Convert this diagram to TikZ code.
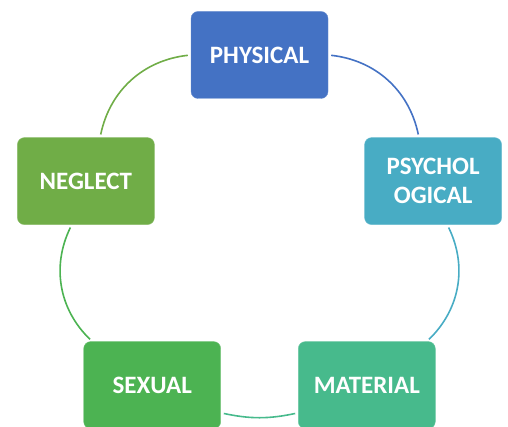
\documentclass[tikz,border=0pt]{standalone}
\usepackage{fontspec}
\setmainfont{Carlito}
\usepackage{xcolor}
\usepackage{tikz}
\usetikzlibrary{positioning, calc}
\definecolor{physblue}{RGB}{68, 114, 196}
\definecolor{psychteal}{RGB}{72, 172, 196}
\definecolor{matgreen}{RGB}{71, 186, 140}
\definecolor{sexgreen}{RGB}{76, 179, 82}
\definecolor{neglgreen}{RGB}{112, 173, 71}

\begin{document}
\begin{tikzpicture}[
        x=1pt, y=-1pt,
        block/.style={rectangle, rounded corners=7pt, minimum width=137pt, minimum height=87pt, align=center, text=white, font=\fontsize{25}{29}\selectfont\bfseries},
        ring/.style={line width=1.6pt, shorten <=3pt, shorten >=3pt}
    ]
        \useasboundingbox (0,0) rectangle (508,427);
        \coordinate (center) at (259.5,237.5);

        \node[block, fill=physblue, draw=physblue!80!white] (physical) at ($(center)+(0,-182.5)$) {PHYSICAL};
        \node[block, fill=psychteal, draw=psychteal!80!white] (psych) at ($(center)+(173.6,-56.4)$) {PSYCHOL\\OGICAL};
        \node[block, fill=matgreen, draw=matgreen!80!white] (material) at ($(center)+(107.3,147.6)$) {MATERIAL};
        \node[block, fill=sexgreen, draw=sexgreen!80!white] (sexual) at ($(center)+(-107.3,147.6)$) {SEXUAL};
        \node[block, fill=neglgreen, draw=neglgreen!80!white] (neglect) at ($(center)+(-173.6,-56.4)$) {NEGLECT};

        \draw[ring, physblue] (physical) to[bend left=36] (psych);
        \draw[ring, psychteal] (psych) to[bend left=36] (material);
        \draw[ring, matgreen] (material.202) to[bend left=12] (sexual.338);
        \draw[ring, sexgreen] (sexual) to[bend left=36] (neglect);
        \draw[ring, neglgreen] (neglect) to[bend left=36] (physical);
    \end{tikzpicture}
\end{document}
